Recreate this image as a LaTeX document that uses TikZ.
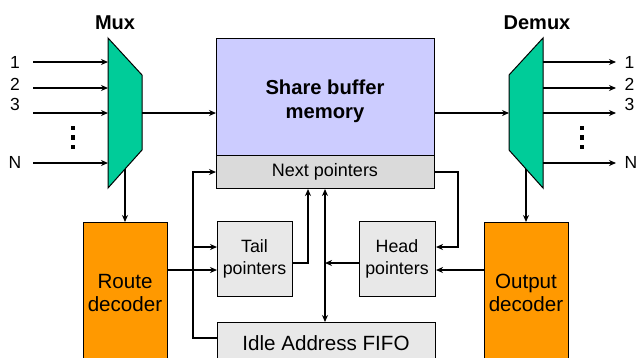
\documentclass[tikz,border=0pt]{standalone}
\usepackage{fontspec}
\setmainfont{Liberation Sans}
\usetikzlibrary{arrows.meta}
\definecolor{memfill}{HTML}{CCCCFF}
\definecolor{nextfill}{HTML}{DADADA}
\definecolor{ptrfill}{HTML}{E8E8E8}
\definecolor{decfill}{HTML}{FF9900}
\definecolor{muxfill}{HTML}{00CC99}
\tikzset{
  box/.style={draw, line width=1pt, inner sep=0pt, anchor=north west},
  lbl/.style={inner sep=0pt, align=center},
  conn/.style={line width=1.2pt, -{Stealth[length=7pt,width=6pt,inset=2.2pt]}},
  dconn/.style={line width=1.2pt, {Stealth[length=7pt,width=6pt,inset=2.2pt]}-{Stealth[length=7pt,width=6pt,inset=2.2pt]}},
  dotsq/.style={fill=black, minimum size=4.5pt, inner sep=0pt},
  bigfont/.style={font=\fontsize{20.6}{23.5}\selectfont},
  midfont/.style={font=\fontsize{17.8}{22}\selectfont},
  numfont/.style={font=\fontsize{17.5}{19}\selectfont},
  headfont/.style={font=\bfseries\fontsize{20}{22}\selectfont},
}
\begin{document}
\begin{tikzpicture}[x=1pt,y=-1pt]
\useasboundingbox (0,0) rectangle (637,357);
\clip (0,0) rectangle (637,357);

% boxes
\node[box, fill=memfill, minimum width=218pt, minimum height=117pt] (mem) at (216,38) {};
\node[lbl, font=\bfseries\fontsize{20.2}{24}\selectfont] (memtxt) at (325,101) {Share buffer\\memory};
\node[box, fill=nextfill, minimum width=218pt, minimum height=33pt] (next) at (216,155) {};
\node[lbl, font=\fontsize{18}{20}\selectfont] (nexttxt) at (325,172) {Next pointers};
\node[box, fill=ptrfill, minimum width=75pt, minimum height=75pt] (tail) at (217,221) {};
\node[lbl, midfont] (tailtxt) at (254.5,259) {Tail\\pointers};
\node[box, fill=ptrfill, minimum width=76pt, minimum height=75pt] (head) at (359,221) {};
\node[lbl, midfont] (headtxt) at (397,259) {Head\\pointers};
\node[box, fill=ptrfill, minimum width=218pt, minimum height=60pt] (fifo) at (217,322) {};
\node[lbl, font=\fontsize{20.6}{24}\selectfont] (fifotxt) at (326,343) {Idle Address FIFO};
\node[box, fill=decfill, minimum width=84pt, minimum height=150pt] (route) at (83,222) {};
\node[lbl, bigfont] (routetxt) at (125,293) {Route\\decoder};
\node[box, fill=decfill, minimum width=84pt, minimum height=150pt] (outd) at (484,222) {};
\node[lbl, bigfont] (outtxt) at (526,293) {Output\\decoder};

% mux / demux
\draw[line width=1pt, fill=muxfill] (108,38) -- (142,75) -- (142,150) -- (108,188) -- cycle;
\draw[line width=1pt, fill=muxfill] (543,38) -- (509,75) -- (509,150) -- (543,188) -- cycle;
\node[lbl, headfont] (muxl) at (115,23) {Mux};
\node[lbl, headfont] (demuxl) at (537,23) {Demux};
\coordinate (muxout) at (142,113);
\coordinate (muxbot) at (125,169);
\coordinate (dmxin) at (509,113);
\coordinate (dmxbot) at (526,169);

% inputs and outputs
\foreach \y/\t/\ty [count=\i] in {62/1/62.5, 88/2/84, 113/3/104, 163/N/162}{
  \coordinate (in\i) at (33,\y);
  \coordinate (mi\i) at (108,\y);
  \draw[conn] (in\i) -- (mi\i);
  \node[lbl, numfont] (inl\i) at (15,\ty) {\t};
  \coordinate (do\i) at (543,\y);
  \coordinate (out\i) at (616,\y);
  \draw[conn] (do\i) -- (out\i);
  \node[lbl, numfont, anchor=west] (outl\i) at (624.5,\ty) {\t};
}
\foreach \y [count=\i] in {128,137.5,147}{
  \node[dotsq] (ld\i) at (73,\y) {};
  \node[dotsq] (rd\i) at (582,\y) {};
}

% connectors
\draw[conn] (muxout) -- (mem.west |- muxout);
\draw[conn] (mem.east |- dmxin) -- (dmxin);
\draw[conn] (muxbot) -- (route.north -| muxbot);
\draw[conn] (dmxbot) -- (outd.north -| dmxbot);

\coordinate (lx) at (193,338);
\draw[conn] (fifo.west |- lx) -- (lx) -- (193,172) -- (next.west |- 0,172);
\draw[conn] (193,247) -- (tail.west |- 0,247);
\draw[conn] (route.east |- 0,270) -- (tail.west |- 0,270);
\draw[conn] (tail.east |- 0,263) -- (308,263) -- (next.south -| 308,0);
\draw[dconn] (next.south -| 325,0) -- (fifo.north -| 325,0);
\draw[conn] (head.west |- 0,263) -- (325,263);
\draw[conn] (next.east |- 0,172) -- (458,172) -- (458,247) -- (head.east |- 0,247);
\draw[conn] (outd.west |- 0,270) -- (head.east |- 0,270);
\end{tikzpicture}
\end{document}
